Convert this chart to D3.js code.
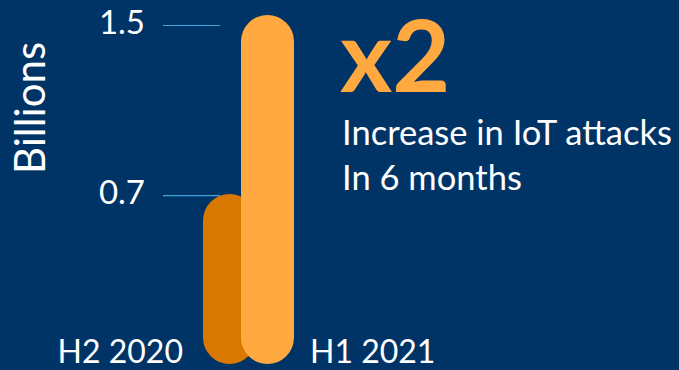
<!DOCTYPE html>
<html>
<head>
<meta charset="utf-8">
<script src="https://cdn.jsdelivr.net/npm/d3@7"></script>
<style>
  html, body { margin: 0; padding: 0; background: #003467; }
  svg { display: block; font-family: Lato, "Open Sans", sans-serif; }
</style>
</head>
<body>
<div id="chart"></div>
<script>
// data
const categories = ["H2 2020", "H1 2021"];
const values = [0.7, 1.5];
const tickValues = [0.7, 1.5];
const barColors = ["#d97800", "#ffa940"];
const headline = "x2";
const noteLines = ["Increase in IoT attacks", "In 6 months"];

const width = 679;
const height = 370;

const svg = d3.select("#chart")
    .append("svg")
    .attr("width", width)
    .attr("height", height);

svg.append("rect")
    .attr("width", width)
    .attr("height", height)
    .attr("fill", "#003467");

// scales
const barW = 53;
const barBottom = 364;
const x = d3.scalePoint().domain(categories).range([229.5, 267.5]);
const yBar = d3.scaleLinear().domain([0, 1.5]).range([350.6, 15]);
const yTick = d3.scaleLinear().domain([0, 1.5]).range([344, 25]);

// axis (tick lines + labels only)
const axis = svg.append("g")
    .attr("transform", "translate(220,0)")
    .call(d3.axisLeft(yTick)
        .tickValues(tickValues)
        .tickFormat(d3.format(".1f"))
        .tickSize(57)
        .tickPadding(18));
axis.select(".domain").remove();
axis.selectAll(".tick line").attr("stroke", "#3fa6d8").attr("stroke-width", 1.2);
axis.selectAll(".tick text")
    .attr("fill", "#fff")
    .attr("font-size", 33)
    .attr("font-family", "Lato, sans-serif")
    .attr("dy", "0.25em");

// y title
svg.append("text")
    .attr("transform", "translate(45,108) rotate(-90)")
    .attr("text-anchor", "middle")
    .attr("fill", "#fff")
    .attr("font-size", 42)
    .text("Billions");

// bars, drawn in order so the later one sits on top
svg.append("g")
    .selectAll("rect")
    .data(values)
    .join("rect")
    .attr("x", (d, i) => x(categories[i]) - barW / 2)
    .attr("y", d => yBar(d))
    .attr("width", barW)
    .attr("height", d => barBottom - yBar(d))
    .attr("rx", barW / 2)
    .attr("ry", barW / 2)
    .attr("fill", (d, i) => barColors[i]);

// category labels
svg.append("text")
    .attr("x", 183).attr("y", 363)
    .attr("text-anchor", "end")
    .attr("fill", "#fff")
    .attr("font-size", 32)
    .text(categories[0]);
svg.append("text")
    .attr("x", 310).attr("y", 363)
    .attr("fill", "#fff")
    .attr("font-size", 32)
    .text(categories[1]);

// headline + note
svg.append("text")
    .attr("x", 340).attr("y", 92)
    .attr("fill", "#ffa940")
    .attr("font-size", 100)
    .attr("font-weight", 700)
    .text(headline);

svg.append("g")
    .selectAll("text")
    .data(noteLines)
    .join("text")
    .attr("x", 342)
    .attr("y", (d, i) => 145 + i * 45)
    .attr("fill", "#fff")
    .attr("font-size", 34.5)
    .text(d => d);
</script>
</body>
</html>
